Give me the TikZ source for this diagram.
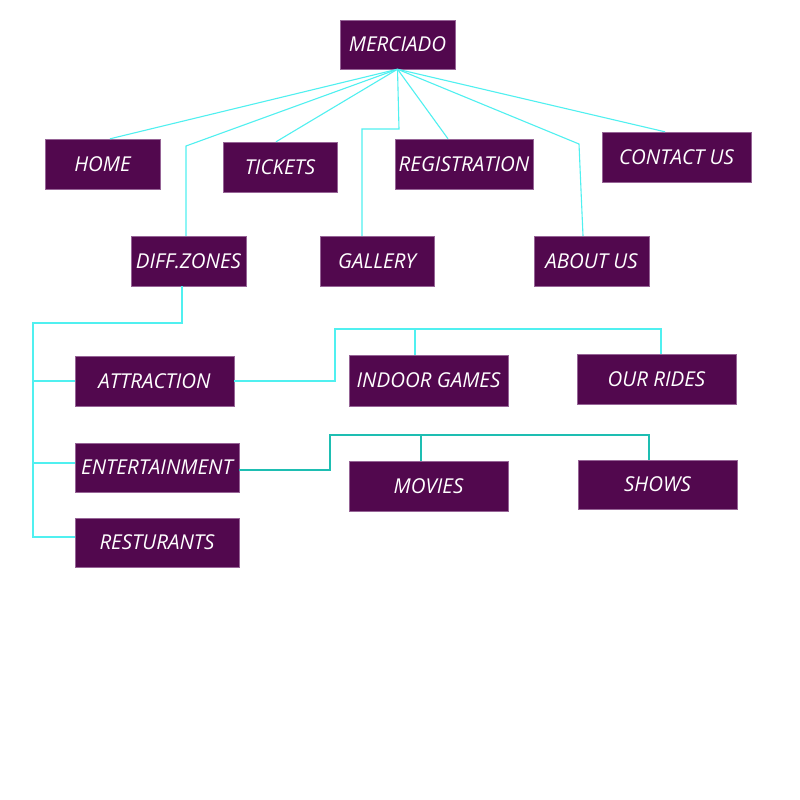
\documentclass[tikz,border=0pt]{standalone}
\usepackage{fontspec}
\setmainfont{Open Sans}
\usetikzlibrary{calc}
\definecolor{boxfill}{RGB}{82,8,78}
\definecolor{boxedge}{RGB}{150,100,150}
\definecolor{linecyan}{RGB}{80,240,240}
\definecolor{lineteal}{RGB}{30,190,178}
\begin{document}
\begin{tikzpicture}[x=1pt,y=-1pt,
  box/.style={rectangle,fill=boxfill,draw=boxedge,line width=0.4pt,inner sep=0pt,
    text=white,font=\fontsize{20.5}{22}\selectfont\itshape},
  conn/.style={draw=linecyan,line width=1.1pt},
  conn2/.style={draw=lineteal,line width=1.1pt}]
\useasboundingbox (0,0) rectangle (800,800);
\fill[white] (0,0) rectangle (800,800);

% nodes
\node[box,minimum width=115pt,minimum height=49pt] (merciado) at (397.5,44.5) {MERCIADO};
\node[box,minimum width=115pt,minimum height=50pt] (home) at (102.5,164) {HOME};
\node[box,minimum width=114pt,minimum height=50pt] (tickets) at (280,167) {TICKETS};
\node[box,minimum width=138pt,minimum height=50pt] (registration) at (464,164) {REGISTRATION};
\node[box,minimum width=149pt,minimum height=50pt] (contact) at (676.5,157) {CONTACT US};
\node[box,minimum width=115pt,minimum height=50pt] (diffzones) at (188.5,261) {DIFF.ZONES};
\node[box,minimum width=114pt,minimum height=50pt] (gallery) at (377,261) {GALLERY};
\node[box,minimum width=115pt,minimum height=50pt] (aboutus) at (591.5,261) {ABOUT US};
\node[box,minimum width=159pt,minimum height=50pt] (attraction) at (154.5,381) {ATTRACTION};
\node[box,minimum width=164pt,minimum height=49pt] (entertainment) at (157,467.5) {ENTERTAINMENT};
\node[box,minimum width=164pt,minimum height=49pt] (resturants) at (157,542.5) {RESTURANTS};
\node[box,minimum width=159pt,minimum height=51pt] (indoor) at (428.5,380.5) {INDOOR GAMES};
\node[box,minimum width=159pt,minimum height=50pt] (ourrides) at (656.5,379) {OUR RIDES};
\node[box,minimum width=159pt,minimum height=50pt] (movies) at (428.5,486) {MOVIES};
\node[box,minimum width=159pt,minimum height=49pt] (shows) at (657.5,484.5) {SHOWS};

% top-level connectors
\coordinate (dz1) at (186,146);
\coordinate (g1) at (399,129);
\coordinate (g2) at (362,129);
\coordinate (ab1) at (579,144);
\draw[conn] (merciado.south) -- ([xshift=7.5pt]home.north);
\draw[conn] (merciado.south) -- (dz1) -- ([xshift=-2.5pt]diffzones.north);
\draw[conn] (merciado.south) -- ([xshift=-4pt]tickets.north);
\draw[conn] (merciado.south) -- (g1) -- (g2) -- ([xshift=-15pt]gallery.north);
\draw[conn] (merciado.south) -- ([xshift=-16pt]registration.north);
\draw[conn] (merciado.south) -- (ab1) -- ([xshift=-8.5pt]aboutus.north);
\draw[conn] (merciado.south) -- ([xshift=-11.5pt]contact.north);

% diff zones tree
\coordinate (z0) at (182,323);
\coordinate (z1) at (33,323);
\coordinate (z2) at (33,537);
\draw[conn] ([xshift=-6.5pt]diffzones.south) -- (z0) -- (z1) -- (z2) -- ([yshift=5.5pt]resturants.west);
\draw[conn] (z1 |- attraction.west) -- (attraction.west);
\draw[conn] ($(z1 |- entertainment.west)+(0,-4.5)$) -- ([yshift=4.5pt]entertainment.west);

% attraction tree
\coordinate (t1) at (335,329);
\coordinate (t2) at (661,329);
\draw[conn] (attraction.east) -- (attraction.east -| t1) -- (t1) -- (t2) -- ([xshift=4.5pt]ourrides.north);
\draw[conn] ([xshift=-13.5pt]indoor.north) -- ($(indoor.north |- t1)+(-13.5,0)$);

% entertainment tree
\coordinate (e1) at (330,435);
\coordinate (e2) at (649,435);
\draw[conn2] ([yshift=-2.5pt]entertainment.east) -- ($(entertainment.east -| e1)+(0,2.5)$) -- (e1) -- (e2) -- ([xshift=-8.5pt]shows.north);
\draw[conn2] ([xshift=-7.5pt]movies.north) -- ($(movies.north |- e1)+(-7.5,0)$);
\end{tikzpicture}
\end{document}
